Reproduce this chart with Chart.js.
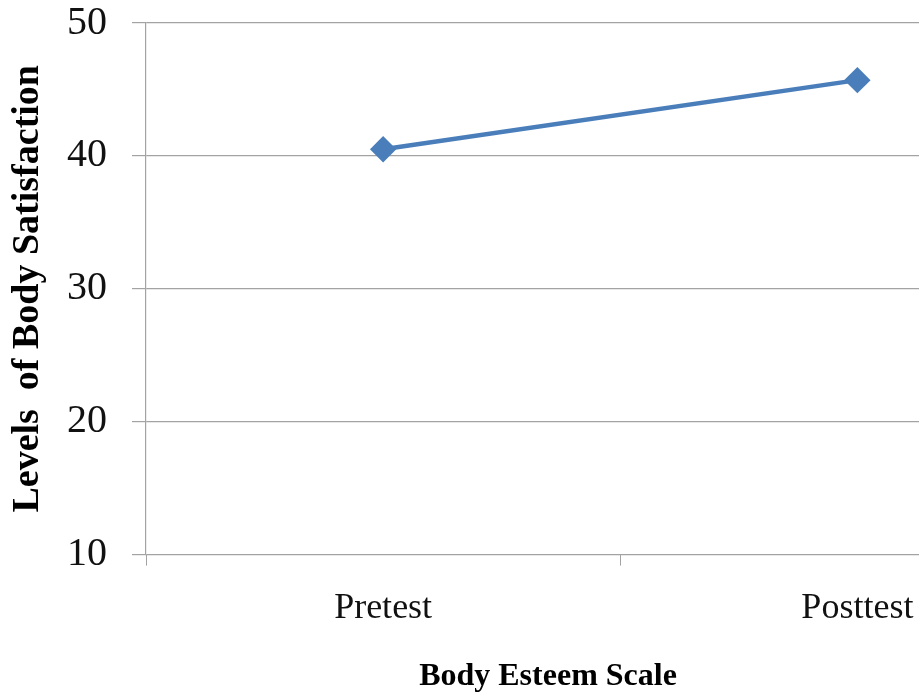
<!DOCTYPE html>
<html>
<head>
<meta charset="utf-8">
<script src="https://cdn.jsdelivr.net/npm/chart.js@4/dist/chart.umd.min.js"></script>
<style>
    html, body { margin: 0; padding: 0; background: #fff; overflow: hidden; }
    /* khung rộng hơn cửa sổ: trục X bị cắt ở mép phải giống ảnh gốc */
    #wrap { position: relative; width: 1109px; height: 694px; }
</style>
</head>
<body>
<div id="wrap"><canvas id="bodyChart"></canvas></div>
<script>
// Dữ liệu biểu đồ
const categories = ['Pretest', 'Posttest'];
const satisfactionValues = [40.5, 45.7];
const yTickValues = [10, 20, 30, 40, 50];

const ctx = document.getElementById('bodyChart').getContext('2d');
const serif = "'Liberation Serif', 'Times New Roman', serif";
const gridColor = '#a3a3a3';

// Dời tiêu đề dưới sang trái một chút (ảnh gốc căn theo phần nhìn thấy)
const shiftTitle = {
    id: 'shiftTitle',
    afterLayout(chart) {
        if (chart.titleBlock) chart.titleBlock.right -= 18;
    }
};

const bodyChart = new Chart(ctx, {
    type: 'line',
    data: {
        labels: categories,
        datasets: [{
            label: 'Body Satisfaction',
            data: satisfactionValues,
            borderColor: '#4a7ebb',
            backgroundColor: '#4a7ebb',
            borderWidth: 4.5,
            pointStyle: 'rectRot',
            pointRadius: 10,
            pointHoverRadius: 10,
            tension: 0
        }]
    },
    options: {
        responsive: true,
        maintainAspectRatio: false,
        animation: false,
        layout: { padding: { left: 9, right: 4, top: 23, bottom: 0 } },
        plugins: {
            legend: { display: false },
            tooltip: { enabled: false },
            // tiêu đề trục X đặt ở đáy
            title: {
                display: true,
                position: 'bottom',
                text: 'Body Esteem Scale',
                color: '#000',
                padding: { top: 8, bottom: 0 },
                font: { family: serif, size: 32, weight: 'bold', lineHeight: 1.1 }
            }
        },
        scales: {
            x: {
                offset: true,
                grid: {
                    offset: true,
                    drawOnChartArea: false,
                    color: gridColor,
                    tickLength: 11
                },
                border: { display: false },
                ticks: {
                    color: '#111',
                    padding: 21,
                    font: { family: serif, size: 36 }
                },
                afterFit: axis => {
                    axis.paddingLeft = 0;
                    axis.paddingRight = 0;
                }
            },
            y: {
                min: yTickValues[0],
                max: yTickValues[yTickValues.length - 1],
                afterBuildTicks: axis => {
                    axis.ticks = yTickValues.map(v => ({ value: v }));
                },
                afterFit: axis => {
                    axis.width = 137;
                    axis.paddingTop = 0;
                    axis.paddingBottom = 0;
                },
                grid: {
                    color: gridColor,
                    lineWidth: 1.2,
                    tickLength: 14
                },
                border: { color: gridColor, width: 1.2 },
                ticks: {
                    color: '#111',
                    padding: 25,
                    font: { family: serif, size: 40 }
                },
                title: {
                    display: true,
                    text: 'Levels  of Body Satisfaction',
                    color: '#000',
                    padding: { top: 0, bottom: 0 },
                    font: { family: serif, size: 38, weight: 'bold', lineHeight: 1 }
                }
            }
        }
    },
    plugins: [shiftTitle]
});
</script>
</body>
</html>
